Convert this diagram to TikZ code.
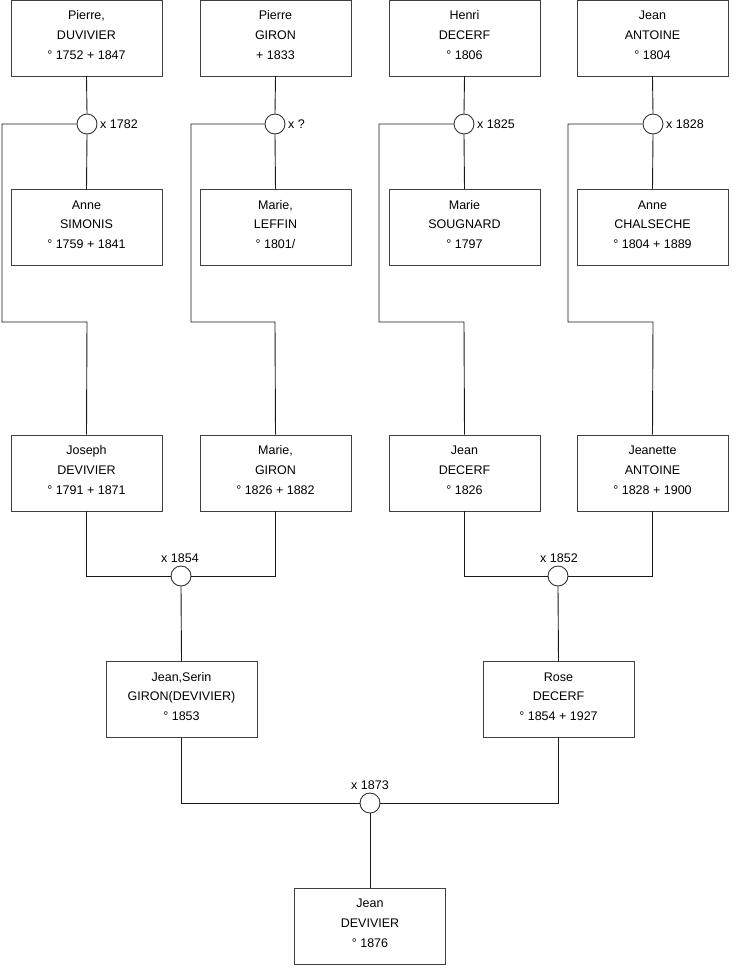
\documentclass[tikz,border=0pt]{standalone}
\usepackage{fontspec}
\setmainfont{Liberation Sans}
\newcommand{\pers}[3]{\raisebox{2.5pt}[\height][\depth]{\begin{tabular}{@{}c@{}}#1\\#2\\#3\end{tabular}}}
\begin{document}
\begin{tikzpicture}[x=1pt,y=-1pt,
  person/.style={draw=black!75,line width=0.9pt,fill=white,minimum width=151pt,minimum height=76pt,inner sep=0pt,align=center,font=\fontsize{12.5}{19.8}\selectfont},
  marr/.style={draw=black!80,circle,line width=0.9pt,fill=white,minimum size=20pt,inner sep=0pt},
  lbl/.style={font=\fontsize{12.5}{15}\selectfont,inner sep=1pt},
  link/.style={draw=black!90,line width=0.9pt}]
\useasboundingbox (0,0) rectangle (740,975);
% top row
\node[person] (p1) at (86.5,38) {\pers{Pierre,}{DUVIVIER}{° 1752 + 1847}};
\node[person] (p2) at (275.5,38) {\pers{Pierre}{GIRON}{+ 1833}};
\node[person] (p3) at (464.5,38) {\pers{Henri}{DECERF}{° 1806}};
\node[person] (p4) at (652.5,38) {\pers{Jean}{ANTOINE}{° 1804}};
% second row
\node[person] (s1) at (86.5,227.5) {\pers{Anne}{SIMONIS}{° 1759 + 1841}};
\node[person] (s2) at (275.5,227.5) {\pers{Marie,}{LEFFIN}{° 1801/}};
\node[person] (s3) at (464.5,227.5) {\pers{Marie}{SOUGNARD}{° 1797}};
\node[person] (s4) at (652.5,227.5) {\pers{Anne}{CHALSECHE}{° 1804 + 1889}};
% third row
\node[person] (t1) at (86.5,473) {\pers{Joseph}{DEVIVIER}{° 1791 + 1871}};
\node[person] (t2) at (275.5,473) {\pers{Marie,}{GIRON}{° 1826 + 1882}};
\node[person] (t3) at (464.5,473) {\pers{Jean}{DECERF}{° 1826}};
\node[person] (t4) at (652.5,473) {\pers{Jeanette}{ANTOINE}{° 1828 + 1900}};
% fourth row
\node[person] (f1) at (181.5,699.5) {\pers{Jean,Serin}{GIRON(DEVIVIER)}{° 1853}};
\node[person] (f2) at (558.5,699.5) {\pers{Rose}{DECERF}{° 1854 + 1927}};
% bottom
\node[person] (b) at (370,926) {\pers{Jean}{DEVIVIER}{° 1876}};
% marriage circles
\node[marr] (m1) at (87,124) {};
\node[marr] (m2) at (275,124) {};
\node[marr] (m3) at (464,124) {};
\node[marr] (m4) at (653,124) {};
\node[marr] (m5) at (181,576) {};
\node[marr] (m6) at (558,576) {};
\node[marr] (m7) at (370,803) {};
% labels
\node[lbl,anchor=west] (l1) at (99,124) {x 1782};
\node[lbl,anchor=west] (l2) at (287,124) {x ?};
\node[lbl,anchor=west] (l3) at (476,124) {x 1825};
\node[lbl,anchor=west] (l4) at (665,124) {x 1828};
\node[lbl] (l5) at (180,558) {x 1854};
\node[lbl] (l6) at (559,558) {x 1852};
\node[lbl] (l7) at (370,785) {x 1873};
% corner coordinates
\coordinate (a1) at (2,124); \coordinate (a1b) at (2,322); \coordinate (a1c) at (87,322);
\coordinate (a2) at (191,124); \coordinate (a2b) at (191,322); \coordinate (a2c) at (275,322);
\coordinate (a3) at (379,124); \coordinate (a3b) at (379,322); \coordinate (a3c) at (464,322);
\coordinate (a4) at (568,124); \coordinate (a4b) at (568,322); \coordinate (a4c) at (653,322);
% top connectors
\foreach \i in {1,2,3,4}{
  \draw[link] (p\i.south) -- (m\i.north);
  \draw[link] (m\i.south) -- (s\i.north);
  \draw[link] (m\i.west) -- (a\i) -- (a\i b) -- (a\i c) -- (t\i.north);
}
% third row to marriages
\draw[link] (t1.south) |- (m5.west);
\draw[link] (t2.south) |- (m5.east);
\draw[link] (m5.south) -- (f1.north);
\draw[link] (t3.south) |- (m6.west);
\draw[link] (t4.south) |- (m6.east);
\draw[link] (m6.south) -- (f2.north);
\draw[link] (f1.south) |- (m7.west);
\draw[link] (f2.south) |- (m7.east);
\draw[link] (m7.south) -- (b.north);
\end{tikzpicture}
\end{document}
